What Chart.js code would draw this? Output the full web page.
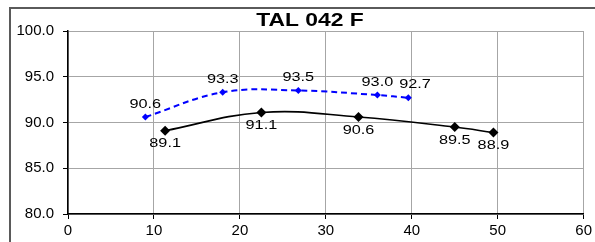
<!DOCTYPE html>
<html>
<head>
<meta charset="utf-8">
<script src="https://cdn.jsdelivr.net/npm/chart.js@4"></script>
<style>
  html, body { margin: 0; padding: 0; background: #fff; }
  #wrap { width: 595px; height: 242px; }
</style>
</head>
<body>
<div id="wrap"><canvas id="talChart" width="595" height="242"></canvas></div>
<script>
const chartTitle = 'TAL 042 F';

// upper series (blue dashed)
const xBlue = [9.0, 18.0, 26.8, 36.0, 39.6];
const yBlue = [90.6, 93.3, 93.5, 93.0, 92.7];

// lower series (black solid)
const xBlack = [11.3, 22.5, 33.8, 45.0, 49.5];
const yBlack = [89.1, 91.1, 90.6, 89.5, 88.9];

const xTicks = [0, 10, 20, 30, 40, 50, 60];
const yTicks = [80, 85, 90, 95, 100];

const toPoints = (xs, ys) => xs.map((x, i) => ({ x: x, y: ys[i] }));

const FONT = '"Liberation Sans", Arial, sans-serif';

// frame + title drawn on the canvas
const frame = {
    id: 'frame',
    beforeDraw(chart) {
        const c = chart.ctx;
        c.save();
        c.strokeStyle = '#5a5a5a';
        c.lineWidth = 2;
        c.beginPath();
        c.moveTo(10, 242);
        c.lineTo(10, 8);
        c.lineTo(595, 8);
        c.stroke();
        c.restore();
    },
    afterDraw(chart) {
        const c = chart.ctx;
        c.save();
        c.font = 'bold 18px ' + FONT;
        c.fillStyle = '#000';
        c.textAlign = 'center';
        c.textBaseline = 'alphabetic';
        c.translate(310, 26);
        c.scale(1.27, 1);
        c.fillText(chartTitle, 0, 0);
        c.restore();
    }
};

// value labels: blue above, black below; nudge a label right when it would overlap the previous one
const valueLabels = {
    id: 'valueLabels',
    afterDatasetsDraw(chart) {
        const c = chart.ctx;
        c.save();
        c.font = '13px ' + FONT;
        c.fillStyle = '#000';
        c.textAlign = 'center';
        c.textBaseline = 'middle';
        chart.data.datasets.forEach((ds, di) => {
            const meta = chart.getDatasetMeta(di);
            let prevRight = -Infinity;
            meta.data.forEach((pt, i) => {
                const txt = ds.data[i].y.toFixed(1);
                const w = c.measureText(txt).width * 1.25;
                let cx = pt.x;
                if (cx - w / 2 < prevRight + 6) cx = prevRight + 6 + w / 2;
                prevRight = cx + w / 2;
                const dy = di === 0 ? -13 : 13;
                c.save();
                c.translate(cx, pt.y + dy);
                c.scale(1.25, 1);
                c.fillText(txt, 0, 0);
                c.restore();
            });
        });
        c.restore();
    }
};

const ctx = document.getElementById('talChart').getContext('2d');

new Chart(ctx, {
    type: 'scatter',
    data: {
        datasets: [{
            data: toPoints(xBlue, yBlue),
            showLine: true,
            borderColor: '#0000ff',
            backgroundColor: '#0000ff',
            borderWidth: 2,
            borderDash: [6, 4],
            tension: 0.4,
            pointStyle: 'rectRot',
            pointRadius: 3.5,
            pointBorderWidth: 0
        }, {
            data: toPoints(xBlack, yBlack),
            showLine: true,
            borderColor: '#000000',
            backgroundColor: '#000000',
            borderWidth: 1.6,
            tension: 0.4,
            pointStyle: 'rectRot',
            pointRadius: 5,
            pointBorderWidth: 0
        }]
    },
    options: {
        responsive: false,
        animation: false,
        layout: { padding: { left: 0, right: 8, top: 31, bottom: 0 } },
        plugins: {
            legend: { display: false },
            title: { display: false },
            tooltip: { enabled: false }
        },
        scales: {
            x: {
                type: 'linear',
                min: 0,
                max: 60,
                afterBuildTicks: s => { s.ticks = xTicks.map(v => ({ value: v })); },
                afterFit: s => { s.height = 28; },
                ticks: {
                    color: '#000',
                    font: { family: FONT, size: 15 },
                    padding: 3,
                    maxRotation: 0
                },
                grid: { color: '#a6a6a6', lineWidth: 1, tickLength: 5, tickColor: '#000' },
                border: { color: '#000', width: 1.5 }
            },
            y: {
                min: 80,
                max: 100,
                afterBuildTicks: s => { s.ticks = yTicks.map(v => ({ value: v })); },
                afterFit: s => { s.width = 68; },
                ticks: {
                    color: '#000',
                    font: { family: FONT, size: 15 },
                    padding: 9,
                    callback: v => v.toFixed(1)
                },
                grid: { color: '#a6a6a6', lineWidth: 1, tickLength: 5, tickColor: '#000' },
                border: { color: '#000', width: 1.5 }
            }
        }
    },
    plugins: [frame, valueLabels]
});
</script>
</body>
</html>
